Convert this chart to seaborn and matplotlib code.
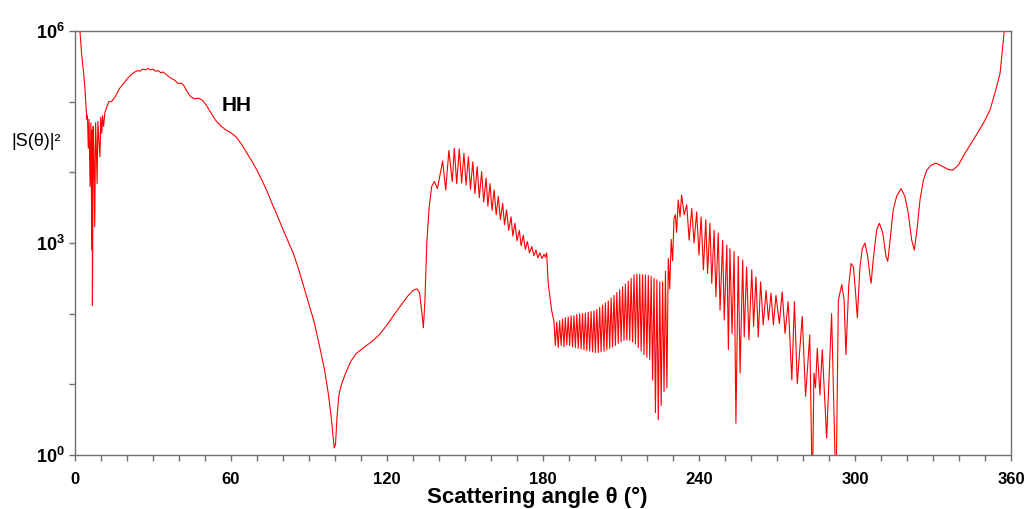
import numpy as np
import matplotlib.pyplot as plt
import seaborn as sns
from matplotlib.ticker import FixedLocator, NullFormatter

# |S(theta)|^2, stored as log10 values per region

# forward peak with the fast ripples (0-13 deg)
theta_fwd = [1.9, 2.6, 3.2, 3.8, 4.3, 4.6, 4.8, 5.1, 5.4, 5.8, 6.1, 6.5, 6.6, 6.7, 7.0,
             7.3, 7.6, 7.9, 8.2, 8.5, 8.8, 9.2, 9.6, 9.9, 10.3, 10.6, 11.0, 11.5, 12.2, 13.0]
log_fwd = [6.0, 5.65, 5.45, 5.2, 4.9, 4.75, 4.8, 4.34, 4.75, 3.8, 4.7, 2.9, 4.6, 2.12, 4.65,
           4.2, 3.23, 4.7, 4.35, 3.84, 4.72, 4.45, 4.22, 4.78, 4.55, 4.8, 4.65, 4.85, 4.92, 5.0]

# broad hump (14-70 deg)
theta_hump = [14, 15.5, 17, 18.5, 20, 21.5, 23, 24, 25, 26, 27, 28, 29, 30, 31, 32, 33, 34,
              35.5, 37, 38.5, 39.5, 41, 42, 43, 44.5, 46, 47.5, 49, 50.5, 52, 54, 56, 58,
              60, 62, 64, 66, 68, 70]
log_hump = [5.0, 5.07, 5.18, 5.25, 5.32, 5.38, 5.42, 5.44, 5.43, 5.46, 5.45, 5.47, 5.45,
            5.46, 5.43, 5.44, 5.41, 5.42, 5.37, 5.33, 5.30, 5.26, 5.26, 5.22, 5.15, 5.07,
            5.04, 5.05, 5.02, 4.95, 4.86, 4.74, 4.66, 4.60, 4.56, 4.50, 4.40, 4.28, 4.16, 4.03]

# deep null near 100 deg and slow rise (72-136 deg)
theta_null = [72, 74, 76, 78, 80, 82, 84, 86, 88, 90, 92, 94, 96, 97.5, 98.5, 99.3, 99.7,
              100.2, 100.8, 101.5, 102.5, 104, 106, 108, 111, 114, 117, 120, 123, 126, 128,
              130, 131.5, 132.5, 133.3, 134.0, 134.6, 135.3, 136.2]
log_null = [3.88, 3.72, 3.54, 3.37, 3.19, 3.02, 2.85, 2.63, 2.38, 2.13, 1.88, 1.55, 1.20,
            0.85, 0.55, 0.25, 0.1, 0.15, 0.55, 0.85, 1.0, 1.15, 1.32, 1.43, 1.52, 1.6, 1.7,
            1.84, 2.0, 2.15, 2.25, 2.33, 2.35, 2.3, 2.05, 1.8, 2.2, 3.0, 3.5]

# lobe 137-184 deg
theta_lobe = [137.2, 138.2, 139.4, 141.4, 142.6, 143.8, 145.1, 145.9, 146.8, 147.8, 148.7,
              149.6, 150.4, 151.3, 152.1, 153.0, 153.8, 154.7, 155.5, 156.4, 157.2, 158.1,
              158.8, 159.6, 160.4, 161.2, 162.0, 162.8, 163.6, 164.5, 165.2, 166.0, 166.8,
              167.7, 168.4, 169.2, 170.0, 170.9, 171.6, 172.4, 173.2, 174.0, 174.8, 175.7,
              176.5, 177.3, 178.0, 178.8, 179.6, 180.4, 180.9, 181.4, 182.0, 183.3, 184.2]
log_lobe = [3.80, 3.87, 3.77, 4.16, 3.75, 4.31, 3.87, 4.34, 3.84, 4.33, 3.85, 4.27, 3.82,
            4.22, 3.76, 4.15, 3.70, 4.08, 3.64, 4.01, 3.58, 3.92, 3.52, 3.84, 3.46, 3.75,
            3.40, 3.66, 3.33, 3.56, 3.26, 3.47, 3.18, 3.37, 3.10, 3.28, 3.03, 3.18, 2.96,
            3.11, 2.91, 3.02, 2.86, 2.95, 2.82, 2.90, 2.79, 2.86, 2.78, 2.84, 2.80, 2.86,
            2.43, 2.05, 1.89]

# dense ripples 185-228 deg
theta_dense = [184.75, 185.3, 185.85, 186.4, 186.95, 187.5, 188.05, 188.6, 189.15, 189.7,
               190.25, 190.8, 191.35, 191.9, 192.45, 193.0, 193.55, 194.1, 194.65, 195.2,
               195.75, 196.3, 196.85, 197.4, 197.95, 198.5, 199.05, 199.6, 200.15, 200.7,
               201.25, 201.8, 202.35, 202.9, 203.45, 204.0, 204.55, 205.1, 205.65, 206.2,
               206.75, 207.3, 207.85, 208.4, 208.95, 209.5, 210.05, 210.6, 211.15, 211.7,
               212.25, 212.8, 213.35, 213.9, 214.45, 215.0, 215.55, 216.1, 216.65, 217.2,
               217.75, 218.3, 218.85, 219.4, 219.95, 220.5, 221.05, 221.6, 222.15, 222.7,
               223.25, 223.8, 224.35, 224.9, 225.45, 226.0, 226.55, 227.1, 227.65]
log_dense = [1.55, 1.88, 1.52, 1.90, 1.55, 1.92, 1.53, 1.94, 1.56, 1.95,
             1.55, 1.97, 1.53, 1.97, 1.52, 1.99, 1.51, 2.00, 1.50, 2.00,
             1.49, 2.01, 1.48, 2.02, 1.47, 2.03, 1.46, 2.04, 1.45, 2.06,
             1.45, 2.09, 1.46, 2.12, 1.47, 2.15, 1.49, 2.18, 1.51, 2.22,
             1.53, 2.26, 1.55, 2.30, 1.58, 2.34, 1.60, 2.38, 1.62, 2.42,
             1.63, 2.46, 1.62, 2.50, 1.60, 2.55, 1.57, 2.56, 1.52, 2.56,
             1.47, 2.55, 1.42, 2.55, 1.38, 2.54, 1.35, 2.53, 1.06, 2.50,
             0.60, 2.48, 0.50, 2.45, 0.70, 2.45, 0.90, 2.60, 0.95]

# second lobe 228-296 deg
theta_back = [228.2, 228.75, 229.3, 229.85, 230.4, 230.9, 231.4, 232.0, 232.7, 233.3, 234.3,
              235.3, 236.2, 237.2, 238.1, 239.1, 240.0, 240.8, 241.7, 242.6, 243.3, 244.2,
              244.9, 245.8, 246.5, 247.4, 248.1, 249.1, 249.7, 250.7, 251.3, 251.9, 252.7,
              253.5, 254.2, 255.1, 255.8, 256.8, 257.4, 258.3, 259.2, 260.3, 261.0, 261.9,
              262.8, 263.7, 264.7, 265.8, 266.7, 267.7, 268.6, 269.6, 270.9, 272.0, 273.1,
              274.3, 275.7, 276.7, 277.8, 279.7, 281.0, 282.6, 283.6, 284.2, 284.8, 285.5,
              286.5, 287.4, 289.1, 291.0, 292.7, 293.6, 294.9, 295.8]
log_back = [2.78, 2.35, 3.05, 2.75, 3.35, 3.40, 3.15, 3.61, 3.37, 3.68, 3.40,
            3.54, 3.04, 3.49, 3.00, 3.44, 2.83, 3.37, 2.62, 3.33, 2.57, 3.28,
            2.43, 3.18, 2.24, 3.14, 2.05, 3.04, 1.91, 2.97, 1.49, 2.92, 1.72,
            2.88, 0.45, 2.81, 1.16, 2.76, 1.67, 2.66, 1.63, 2.62, 1.82, 2.52,
            1.67, 2.45, 1.84, 2.33, 1.91, 2.29, 1.84, 2.26, 1.86, 2.31, 1.72,
            2.17, 1.06, 2.17, 1.01, 1.96, 0.83, 1.70, -0.6, 1.16, 0.95, 1.51,
            0.85, 1.49, 0.24, 2.00, -0.6, 2.19, 2.41, 2.20]

# slow swings back up to 360 deg
theta_end = [296.5, 297.6, 298.5, 299.4, 300.2, 300.9, 301.9, 302.8, 303.8, 304.9, 305.8,
             306.2, 307.0, 308.3, 309.4, 310.7, 311.9, 312.6, 313.5, 314.7, 316.0, 317.7,
             319.2, 320.5, 321.8, 322.8, 323.7, 325.0, 326.3, 327.6, 329.2, 331.2, 333.3,
             335.9, 337.6, 339.7, 342.3, 345.5, 349.3, 351.9, 353.8, 355.8, 357.4, 358.0]
log_end = [1.42, 2.40, 2.71, 2.66, 2.30, 1.94, 2.66, 2.92, 3.00, 2.81, 2.52,
           2.43, 2.76, 3.18, 3.28, 3.14, 2.81, 2.74, 3.04, 3.47, 3.66, 3.77,
           3.66, 3.42, 3.04, 2.90, 3.14, 3.61, 3.89, 4.03, 4.10, 4.13, 4.09,
           4.04, 4.03, 4.10, 4.27, 4.46, 4.69, 4.88, 5.12, 5.40, 6.0, 6.3]

x_ticks = [0, 60, 120, 180, 240, 300, 360]
y_ticks = [1, 1e3, 1e6]
y_tick_labels = [r"$\mathbf{10^{0}}$", r"$\mathbf{10^{3}}$", r"$\mathbf{10^{6}}$"]

theta = np.concatenate([theta_fwd, theta_hump, theta_null, theta_lobe,
                        theta_dense, theta_back, theta_end])
s = 10.0 ** np.concatenate([log_fwd, log_hump, log_null, log_lobe,
                            log_dense, log_back, log_end])

sns.set_style("ticks")
plt.rcParams["font.family"] = ["Liberation Sans", "DejaVu Sans"]
plt.rcParams["text.color"] = "black"
plt.rcParams["mathtext.fontset"] = "custom"
plt.rcParams["mathtext.rm"] = "Liberation Sans"
plt.rcParams["mathtext.it"] = "Liberation Sans"
plt.rcParams["mathtext.bf"] = "Liberation Sans:bold"

fig = plt.figure(figsize=(10.31, 5.09), dpi=100)
ax = fig.add_axes([75 / 1031, 1 - 455 / 509, 936 / 1031, 424 / 509])

sns.lineplot(x=theta, y=s, ax=ax, color="red", linewidth=0.8,
             estimator=None, sort=False)

ax.set_yscale("log")
ax.set_xlim(0, 360)
ax.set_ylim(1, 1e6)

ax.set_xticks(x_ticks)
ax.set_xticklabels([str(t) for t in x_ticks], fontsize=12, fontweight="bold")
ax.xaxis.set_minor_locator(FixedLocator(range(0, 361, 10)))
ax.set_yticks(y_ticks)
ax.set_yticklabels(y_tick_labels, fontsize=13)
ax.yaxis.set_minor_locator(FixedLocator([10, 100, 1e4, 1e5]))
ax.yaxis.set_minor_formatter(NullFormatter())

ax.tick_params(which="both", direction="out", length=4, width=1, color="#707070",
               bottom=True, left=True, top=False, right=False)
ax.tick_params(axis="x", which="major", pad=8.5, labelcolor="black")
ax.tick_params(axis="y", which="major", pad=3.5, labelcolor="black")

for side in ["left", "bottom", "top", "right"]:
    ax.spines[side].set_visible(True)
    ax.spines[side].set_color("#707070")
    ax.spines[side].set_linewidth(1)

ax.text(56.4, 10 ** 4.94, "HH", fontsize=15, fontweight="bold", color="black",
        va="center", ha="left")
fig.text(11 / 1031, 1 - 142 / 509, "|S(θ)|²", fontsize=13, color="black",
         va="center", ha="left")
fig.text(537 / 1031, 1 - 503 / 509, "Scattering angle θ (°)", fontsize=16,
         fontweight="bold", color="black", va="baseline", ha="center")

fig.savefig("out.png", dpi=100)
